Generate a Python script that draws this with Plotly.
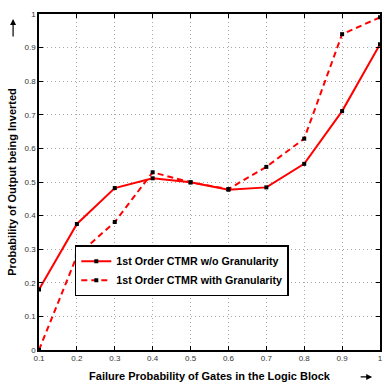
import plotly.graph_objects as go

# Failure probability of gates in the logic block
failure_prob = [0.1, 0.2, 0.3, 0.4, 0.5, 0.6, 0.7, 0.8, 0.9, 1.0]

# Probability of the output being inverted
ctmr_without_granularity = [0.18, 0.375, 0.482, 0.511, 0.499, 0.477, 0.484, 0.554, 0.711, 0.91]
ctmr_with_granularity = [0.0, 0.28, 0.381, 0.529, 0.499, 0.479, 0.545, 0.629, 0.94, 0.99]

series_names = [
    "1st Order CTMR w/o Granularity",
    "1st Order CTMR with Granularity",
]

tick_vals = [0, 0.1, 0.2, 0.3, 0.4, 0.5, 0.6, 0.7, 0.8, 0.9, 1]

FONT = "Liberation Sans, Arial, Helvetica, sans-serif"
RED = "#ff0000"

fig = go.Figure()
fig.add_trace(go.Scatter(
    x=failure_prob, y=ctmr_without_granularity, name=series_names[0],
    mode="lines+markers",
    line=dict(color=RED, width=2),
    marker=dict(symbol="square", size=4, color="black"),
))
fig.add_trace(go.Scatter(
    x=failure_prob, y=ctmr_with_granularity, name=series_names[1],
    mode="lines+markers",
    line=dict(color=RED, width=2, dash="6px,4px"),
    marker=dict(symbol="square", size=4, color="black"),
))

axis_common = dict(
    showline=True, linecolor="black", linewidth=1.5, mirror="ticks",
    ticks="inside", ticklen=4, tickcolor="black", tickwidth=1,
    showgrid=True, gridcolor="#a8a8a8", gridwidth=1, griddash="1px,3px",
    zeroline=False,
    tickfont=dict(family=FONT, size=8, color="#333333"),
)

fig.update_xaxes(
    range=[0.1, 1.0], tickvals=tick_vals[1:],
    title=dict(text="Failure Probability of Gates in the Logic Block",
               font=dict(family=FONT, size=11, color="black", weight="bold"),
               standoff=10),
    **axis_common,
)
fig.update_yaxes(
    range=[0, 1], tickvals=tick_vals,
    title=dict(text="Probability of Output being Inverted",
               font=dict(family=FONT, size=11, color="black", weight="bold"),
               standoff=6),
    **axis_common,
)

# Direction arrows beside the axis titles
fig.add_annotation(
    xref="paper", yref="paper", x=-0.076, y=0.985, ax=0, ay=19,
    text="", showarrow=True, arrowhead=2, arrowsize=1, arrowwidth=1.2,
    arrowcolor="black",
)
fig.add_annotation(
    xref="paper", yref="paper", x=0.977, y=-0.08, ax=-13, ay=0,
    text="", showarrow=True, arrowhead=2, arrowsize=1, arrowwidth=1.2,
    arrowcolor="black",
)

fig.update_layout(
    width=383, height=386,
    margin=dict(l=39, r=1, t=14, b=36),
    paper_bgcolor="white", plot_bgcolor="white",
    font=dict(family=FONT, color="black"),
    showlegend=True,
    legend=dict(
        x=0.105, y=0.312, xanchor="left", yanchor="top",
        bgcolor="white", bordercolor="black", borderwidth=1.5,
        font=dict(family=FONT, size=10.7, color="black", weight="bold"),
        tracegroupgap=0, itemwidth=30,
    ),
)

fig.write_html("out.html")
